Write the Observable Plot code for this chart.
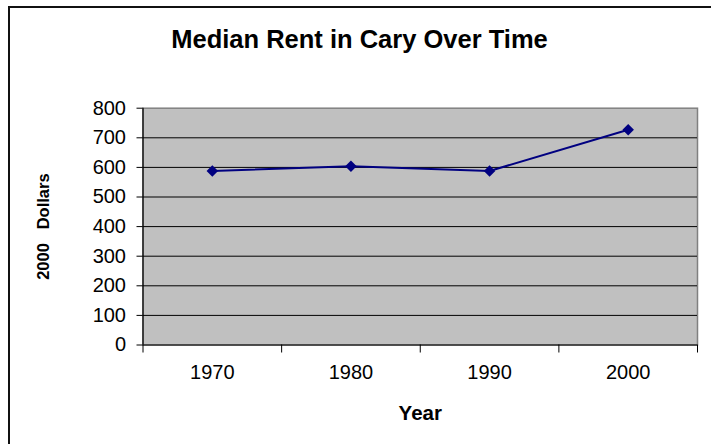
<!DOCTYPE html>
<html>
<head>
<meta charset="utf-8">
<script src="https://cdn.jsdelivr.net/npm/d3@7"></script>
<script src="https://cdn.jsdelivr.net/npm/@observablehq/plot@0.6"></script>
<style>
  html, body { margin: 0; padding: 0; background: #fff; width: 711px; height: 444px; overflow: hidden; }
  #frame { position: absolute; left: 8px; top: 6px; width: 740px; height: 480px; border: 2px solid #111; box-sizing: border-box; }
  #chart { position: absolute; left: 0; top: 0; }
  svg { font-family: "Liberation Sans", Arial, sans-serif; }
</style>
</head>
<body>
<div id="frame"></div>
<div id="chart"></div>
<script>
const chartTitle = "Median Rent in Cary Over Time";
const yLabel = "2000\u00a0\u00a0\u00a0Dollars";
const xLabel = "Year";
const years = [1970, 1980, 1990, 2000];
const rent = [588, 604, 588, 727];
const yTicks = [0, 100, 200, 300, 400, 500, 600, 700, 800];

const data = years.map((y, i) => ({year: y, rent: rent[i]}));
const half = (years[1] - years[0]) / 2;
const xDomain = [d3.min(years) - half, d3.max(years) + half];
const boundaries = years.map(y => y - half).concat([d3.max(years) + half]);

const plot = Plot.plot({
  width: 711,
  height: 444,
  marginLeft: 142.5,
  marginRight: 14,
  marginTop: 107.7,
  marginBottom: 99.5,
  style: {fontFamily: "Liberation Sans, Arial, sans-serif", background: "transparent", overflow: "visible"},
  x: {type: "linear", domain: xDomain},
  y: {domain: [0, 800]},
  marks: [
    Plot.frame({fill: "#c0c0c0", stroke: "#808080", strokeWidth: 1.5}),
    Plot.ruleY(yTicks.filter(d => d > 0 && d < 800), {stroke: "#000", strokeWidth: 1}),
    Plot.ruleY([0], {stroke: "#000", strokeWidth: 1.2}),
    Plot.ruleX([xDomain[0]], {stroke: "#000", strokeWidth: 1.2}),
    Plot.axisY({ticks: yTicks, tickSize: 6, tickPadding: 11, fontSize: 20, tickFormat: d => String(d), label: null, stroke: "#000", color: "#000"}),
    Plot.axisX({ticks: boundaries, tickSize: 8, tickFormat: () => "", label: null, stroke: "#000"}),
    Plot.axisX({ticks: years, tickSize: 0, tickPadding: 20, fontSize: 20, tickFormat: d => String(d), label: null, color: "#000"}),
    Plot.line(data, {x: "year", y: "rent", stroke: "#000080", strokeWidth: 2}),
    Plot.dot(data, {x: "year", y: "rent", symbol: "diamond2", r: 5.2, fill: "#000080", stroke: "none"}),
    Plot.text([xLabel], {frameAnchor: "bottom", lineAnchor: "middle", dy: 68.5, text: d => d, fontSize: 20.5, fontWeight: "bold", fill: "#000"}),
    Plot.text([yLabel], {frameAnchor: "left", textAnchor: "middle", lineAnchor: "middle", dx: -99.5, rotate: -90, text: d => d, fontSize: 16.5, fontWeight: "bold", fill: "#000"}),
    Plot.text([chartTitle], {frameAnchor: "top", lineAnchor: "middle", dy: -68.7, dx: -60.75, text: d => d, fontSize: 25.5, fontWeight: "bold", fill: "#000"})
  ]
});
document.getElementById("chart").appendChild(plot);
</script>
</body>
</html>
